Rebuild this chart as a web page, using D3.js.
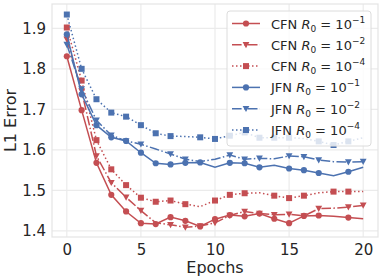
<!DOCTYPE html>
<html>
<head>
<meta charset="utf-8">
<script src="https://cdn.jsdelivr.net/npm/d3@7"></script>
<style>
  body { margin: 0; background: #fff; }
  svg text { font-family: "DejaVu Sans", sans-serif; fill: #262626; }
</style>
</head>
<body>
<svg id="chart" width="382" height="280"></svg>
<script>
// data
const epochs = [0,1,2,3,4,5,6,7,8,9,10,11,12,13,14,15,16,17,18,19,20];
const cfn1 = [1.831,1.698,1.568,1.489,1.448,1.419,1.417,1.434,1.425,1.411,1.429,1.439,1.436,1.443,1.430,1.419,1.437,1.438,1.436,1.433,1.430];
const cfn2 = [1.873,1.745,1.585,1.519,1.483,1.450,1.420,1.415,1.409,1.412,1.420,1.438,1.448,1.443,1.440,1.441,1.437,1.455,1.456,1.459,1.463];
const cfn4 = [1.902,1.771,1.624,1.552,1.513,1.482,1.472,1.475,1.466,1.460,1.475,1.489,1.493,1.494,1.487,1.481,1.487,1.494,1.497,1.497,1.497];
const jfn1 = [1.885,1.737,1.661,1.631,1.622,1.593,1.567,1.564,1.568,1.569,1.557,1.568,1.567,1.557,1.562,1.554,1.550,1.543,1.536,1.546,1.557];
const jfn2 = [1.860,1.750,1.673,1.636,1.622,1.614,1.602,1.590,1.577,1.571,1.577,1.587,1.577,1.579,1.578,1.585,1.583,1.575,1.571,1.570,1.571];
const jfn4 = [1.934,1.800,1.725,1.692,1.682,1.661,1.641,1.634,1.633,1.631,1.627,1.635,1.643,1.630,1.630,1.630,1.628,1.621,1.612,1.621,1.630];
// epochs where the reference shows no marker
const cfn1Skip = [18, 20];
const cfn2Skip = [6, 18];
const cfn4Skip = [9, 13, 17, 20];
const jfn1Skip = [10, 14, 18, 20];
const jfn2Skip = [6, 9, 10, 14, 18];
const jfn4Skip = [8, 16, 20];
const xTicks = [0, 5, 10, 15, 20];
const yTicks = [1.4, 1.5, 1.6, 1.7, 1.8, 1.9];

const red = "#c44e52", blue = "#4c72b0";
const series = [
  {model: "CFN", exp: "−1", vals: cfn1, skip: cfn1Skip, color: red, dash: null, marker: "circle"},
  {model: "CFN", exp: "−2", vals: cfn2, skip: cfn2Skip, color: red, dash: "9.6,2.4,1.5,2.4", marker: "tri"},
  {model: "CFN", exp: "−4", vals: cfn4, skip: cfn4Skip, color: red, dash: "1.5,2.5", marker: "square"},
  {model: "JFN", exp: "−1", vals: jfn1, skip: jfn1Skip, color: blue, dash: null, marker: "circle"},
  {model: "JFN", exp: "−2", vals: jfn2, skip: jfn2Skip, color: blue, dash: "9.6,2.4,1.5,2.4", marker: "tri"},
  {model: "JFN", exp: "−4", vals: jfn4, skip: jfn4Skip, color: blue, dash: "1.5,2.5", marker: "square"}
];

const plot = {left: 52, right: 378, top: 4, bottom: 237};
const svg = d3.select("#chart");

const x = d3.scaleLinear().domain([-1, 21]).range([plot.left, plot.right]);
const y = d3.scaleLinear().domain([1.385, 1.96]).range([plot.bottom, plot.top]);

// grid
const grid = svg.append("g");
grid.selectAll("line.gx").data(xTicks).join("line")
    .attr("x1", d => x(d)).attr("x2", d => x(d))
    .attr("y1", plot.top).attr("y2", plot.bottom)
    .attr("stroke", "#ebebeb").attr("stroke-width", 1.2);
grid.selectAll("line.gy").data(yTicks).join("line")
    .attr("y1", d => y(d)).attr("y2", d => y(d))
    .attr("x1", plot.left).attr("x2", plot.right)
    .attr("stroke", "#ebebeb").attr("stroke-width", 1.2);

// frame
svg.append("rect")
    .attr("x", plot.left).attr("y", plot.top)
    .attr("width", plot.right - plot.left).attr("height", plot.bottom - plot.top)
    .attr("fill", "none").attr("stroke", "#e4e4e4").attr("stroke-width", 1.2);

// tick labels via d3 axes, no domain/ticks drawn
const xAxis = svg.append("g")
    .attr("transform", "translate(0," + plot.bottom + ")")
    .call(d3.axisBottom(x).tickValues(xTicks).tickSize(0).tickPadding(7).tickFormat(d3.format("d")));
const yAxis = svg.append("g")
    .attr("transform", "translate(" + plot.left + ",0)")
    .call(d3.axisLeft(y).tickValues(yTicks).tickSize(0).tickPadding(6).tickFormat(d3.format(".1f")));
[xAxis, yAxis].forEach(a => {
  a.select(".domain").remove();
  a.selectAll("text").style("font-family", "DejaVu Sans").style("font-size", "15px").attr("fill", "#262626");
});

svg.append("text")
    .attr("x", (plot.left + plot.right) / 2).attr("y", 273)
    .attr("text-anchor", "middle").style("font-size", "16px")
    .text("Epochs");
svg.append("text")
    .attr("transform", "translate(16," + ((plot.top + plot.bottom) / 2) + ") rotate(-90)")
    .attr("text-anchor", "middle").style("font-size", "16px")
    .text("L1 Error");

function drawMarker(g, type, cx, cy, color) {
  if (type === "circle") {
    g.append("circle").attr("cx", cx).attr("cy", cy).attr("r", 3.1).attr("fill", color);
  } else if (type === "square") {
    g.append("rect").attr("x", cx - 3).attr("y", cy - 3).attr("width", 6).attr("height", 6).attr("fill", color);
  } else {
    g.append("path").attr("d", `M${cx - 3.4},${cy - 2.8}L${cx + 3.4},${cy - 2.8}L${cx},${cy + 3.4}Z`).attr("fill", color);
  }
}

const line = d3.line().x((d, i) => x(epochs[i])).y(d => y(d));
series.forEach(s => {
  const g = svg.append("g");
  g.append("path")
      .attr("d", line(s.vals))
      .attr("fill", "none").attr("stroke", s.color).attr("stroke-width", 1.5)
      .attr("stroke-dasharray", s.dash);
  s.vals.forEach((v, i) => {
    if (!s.skip.includes(epochs[i])) drawMarker(g, s.marker, x(epochs[i]), y(v), s.color);
  });
});

// legend
const lg = svg.append("g");
lg.append("rect")
    .attr("x", 227).attr("y", 11).attr("width", 144).attr("height", 135).attr("rx", 3)
    .attr("fill", "#fff").attr("fill-opacity", 0.8).attr("stroke", "#dcdcdc").attr("stroke-width", 1);
series.forEach((s, i) => {
  const ry = 23.5 + i * 21.3;
  lg.append("line").attr("x1", 232).attr("x2", 260).attr("y1", ry).attr("y2", ry)
      .attr("stroke", s.color).attr("stroke-width", 1.5).attr("stroke-dasharray", s.dash);
  drawMarker(lg, s.marker, 246, ry, s.color);
  const t = lg.append("text").attr("x", 271).attr("y", ry + 5).style("font-size", "13px");
  t.append("tspan").text(s.model + " ");
  t.append("tspan").style("font-style", "italic").text("R");
  t.append("tspan").attr("dy", 3).style("font-size", "9px").text("0");
  t.append("tspan").attr("dy", -3).text(" = 10");
  t.append("tspan").attr("dy", -6).style("font-size", "9px").text(s.exp);
});
</script>
</body>
</html>
